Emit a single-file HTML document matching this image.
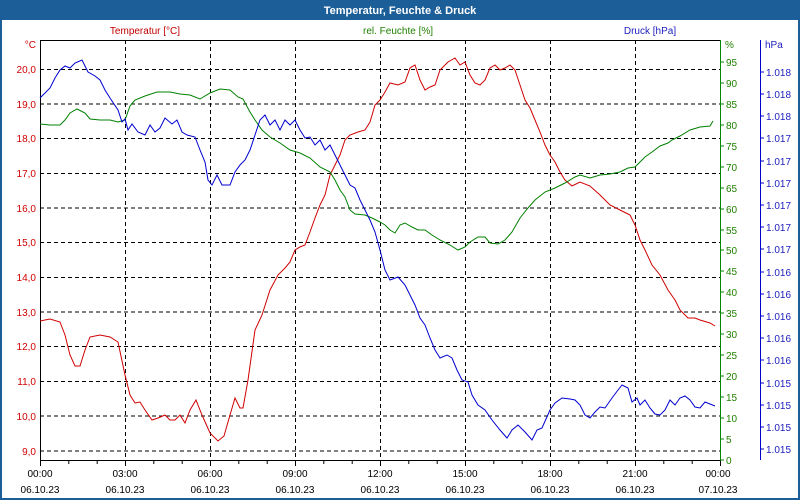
<!DOCTYPE html>
<html><head><meta charset="utf-8"><style>
body{margin:0;background:#fff}
svg{display:block;font-family:"Liberation Sans",sans-serif;font-size:10px}
</style></head><body>
<svg width="800" height="500" viewBox="0 0 800 500">
<rect x="0" y="0" width="800" height="500" fill="#1c5e97"/>
<rect x="2" y="20" width="796" height="478" fill="#fff"/>
<text x="400" y="14" text-anchor="middle" fill="#fff" font-weight="bold" font-size="11">Temperatur, Feuchte &amp; Druck</text>
<text x="145" y="34" text-anchor="middle" fill="#c00000">Temperatur [°C]</text>
<text x="398" y="34" text-anchor="middle" fill="#208000">rel. Feuchte [%]</text>
<text x="650" y="34" text-anchor="middle" fill="#2020c0">Druck [hPa]</text>
<g stroke="#000" stroke-dasharray="4,3" stroke-width="1">
<path d="M125.5 40V460M210.5 40V460M295.5 40V460M380.5 40V460M465.5 40V460M550.5 40V460M635.5 40V460"/>
<path d="M40 69.5H720M40 104H720M40 138.5H720M40 173.5H720M40 208H720M40 242.5H720M40 277.5H720M40 312H720M40 346.5H720M40 381.5H720M40 416H720M40 451H720"/>
</g>
<path d="M40.5 40V460.5H720" stroke="#000" fill="none"/>
<path d="M40 40.5H720" stroke="#000"/>
<path d="M720.5 40V460.5" stroke="#080"/>
<path d="M760.5 40V460" stroke="#00c"/>
<g stroke="#000"><path d="M40.5 460V466M68.8 460V464M97.2 460V464M125.5 460V466M153.8 460V464M182.2 460V464M210.5 460V466M238.8 460V464M267.2 460V464M295.5 460V466M323.8 460V464M352.2 460V464M380.5 460V466M408.8 460V464M437.2 460V464M465.5 460V466M493.8 460V464M522.2 460V464M550.5 460V466M578.8 460V464M607.2 460V464M635.5 460V466M663.8 460V464M692.2 460V464M720.5 460V466"/></g>
<g fill="#000" text-anchor="middle">
<text x="40" y="477">00:00</text><text x="40" y="493">06.10.23</text>
<text x="125" y="477">03:00</text><text x="125" y="493">06.10.23</text>
<text x="210" y="477">06:00</text><text x="210" y="493">06.10.23</text>
<text x="295" y="477">09:00</text><text x="295" y="493">06.10.23</text>
<text x="380" y="477">12:00</text><text x="380" y="493">06.10.23</text>
<text x="465" y="477">15:00</text><text x="465" y="493">06.10.23</text>
<text x="550" y="477">18:00</text><text x="550" y="493">06.10.23</text>
<text x="635" y="477">21:00</text><text x="635" y="493">06.10.23</text>
<text x="718" y="477">00:00</text><text x="718" y="493">07.10.23</text>
</g>
<g fill="#d00000" text-anchor="end">
<text x="36" y="48">°C</text>
<text x="36" y="73">20,0</text><text x="36" y="108">19,0</text><text x="36" y="142">18,0</text><text x="36" y="177">17,0</text><text x="36" y="212">16,0</text><text x="36" y="246">15,0</text><text x="36" y="281">14,0</text><text x="36" y="316">13,0</text><text x="36" y="350">12,0</text><text x="36" y="385">11,0</text><text x="36" y="420">10,0</text><text x="36" y="455">9,0</text>
</g>
<g stroke="#080"><path d="M720 62H724M720 83H724M720 104H724M720 125H724M720 146H724M720 167H724M720 188H724M720 209H724M720 230H724M720 250H724M720 271H724M720 292H724M720 313H724M720 334H724M720 355H724M720 376H724M720 397H724M720 418H724M720 439H724M720 460H724"/></g>
<g fill="#208000">
<text x="725" y="48">%</text>
<text x="726" y="66">95</text><text x="726" y="87">90</text><text x="726" y="108">85</text><text x="726" y="129">80</text><text x="726" y="150">75</text><text x="726" y="171">70</text><text x="726" y="192">65</text><text x="726" y="213">60</text><text x="726" y="234">55</text><text x="726" y="254">50</text><text x="726" y="275">45</text><text x="726" y="296">40</text><text x="726" y="317">35</text><text x="726" y="338">30</text><text x="726" y="359">25</text><text x="726" y="380">20</text><text x="726" y="401">15</text><text x="726" y="422">10</text><text x="726" y="443">5</text><text x="726" y="464">0</text>
</g>
<g stroke="#00c"><path d="M760 72H764M760 94H764M760 116H764M760 138H764M760 161H764M760 183H764M760 205H764M760 227H764M760 249H764M760 272H764M760 294H764M760 316H764M760 338H764M760 360H764M760 383H764M760 405H764M760 427H764M760 449H764"/></g>
<g fill="#2020c0">
<text x="765" y="48">hPa</text>
<text x="766" y="76">1.018</text><text x="766" y="98">1.018</text><text x="766" y="120">1.018</text><text x="766" y="142">1.017</text><text x="766" y="165">1.017</text><text x="766" y="187">1.017</text><text x="766" y="209">1.017</text><text x="766" y="231">1.017</text><text x="766" y="253">1.017</text><text x="766" y="276">1.016</text><text x="766" y="298">1.016</text><text x="766" y="320">1.016</text><text x="766" y="342">1.016</text><text x="766" y="364">1.016</text><text x="766" y="387">1.015</text><text x="766" y="409">1.015</text><text x="766" y="431">1.015</text><text x="766" y="453">1.015</text>
</g>
<polyline fill="none" stroke="#d00000" points="40,321 50,319 60,322 65,335 70,355 75,366 80,366 85,350 90,337 100,335 110,337 118,342 125,375 130,395 135,403 140,402 145,410 152,420 158,418 165,415 170,420 175,420 180,415 185,423 190,410 196,400 202,415 210,433 218,441 224,436 230,415 235,398 240,408 243,408 248,380 255,330 262,315 270,290 278,275 285,268 290,262 295,250 300,247 305,245 310,232 315,218 320,205 325,195 330,175 335,165 340,155 345,140 350,135 358,132 365,130 370,122 375,105 380,100 385,92 390,83 398,85 405,82 410,68 415,65 420,80 425,90 430,87 435,85 440,70 448,62 455,58 460,65 465,62 470,75 475,83 480,85 485,80 490,68 495,65 500,70 505,68 510,65 515,70 520,85 525,100 530,108 535,120 540,132 545,145 550,155 555,162 560,172 565,180 572,186 580,182 590,186 600,195 610,205 620,210 630,215 635,225 640,240 645,250 652,265 660,275 668,290 675,300 680,310 688,318 695,318 700,320 710,323 715,326"/>
<polyline fill="none" stroke="#008000" points="40,124 50,125 60,125 65,120 70,113 77,109 85,113 90,119 100,120 110,120 118,122 125,120 130,106 135,100 145,96 157,92 170,92 180,94 190,95 200,99 210,93 220,89 230,90 238,97 243,99 250,112 255,120 262,130 270,137 280,143 290,150 300,153 310,158 320,167 330,172 335,180 340,190 345,197 350,210 355,214 365,215 372,218 380,222 385,225 390,230 395,233 400,225 405,223 412,227 418,230 425,230 432,235 440,240 450,245 458,250 465,247 470,242 478,237 485,237 490,243 498,244 505,240 512,232 520,218 528,208 535,200 545,192 555,188 565,183 575,177 580,175 590,178 600,175 610,174 620,172 628,168 635,167 645,157 652,152 660,146 668,143 672,140 680,136 690,130 700,127 710,126 713,121"/>
<polyline fill="none" stroke="#0000d0" points="40,98 50,88 55,78 60,70 65,66 70,68 75,63 82,60 88,72 95,76 100,80 105,90 110,98 118,110 122,122 125,119 128,130 132,124 138,132 145,135 150,125 155,132 160,128 165,118 172,124 177,120 182,132 187,135 195,137 200,150 205,162 208,180 212,185 217,175 222,185 230,185 235,172 240,165 245,160 250,150 255,135 260,120 265,115 270,125 275,120 280,130 285,120 290,125 295,120 300,130 305,138 310,137 315,145 320,140 325,150 330,145 335,155 340,165 345,175 350,185 355,188 360,200 365,210 370,220 375,232 380,250 385,270 390,280 398,277 405,285 410,295 415,305 420,318 425,325 430,338 435,350 440,358 447,355 452,358 457,370 462,380 468,382 472,395 478,405 485,410 492,420 500,430 507,438 512,430 518,425 525,432 532,440 537,430 542,428 550,410 555,403 562,398 570,399 575,400 580,405 585,415 590,418 595,412 600,407 605,408 612,398 618,390 622,385 628,388 632,402 637,398 640,405 645,400 650,408 655,414 660,415 665,410 670,400 675,405 680,398 685,396 690,400 695,407 700,408 705,402 710,404 715,406"/>
</svg>
</body></html>
